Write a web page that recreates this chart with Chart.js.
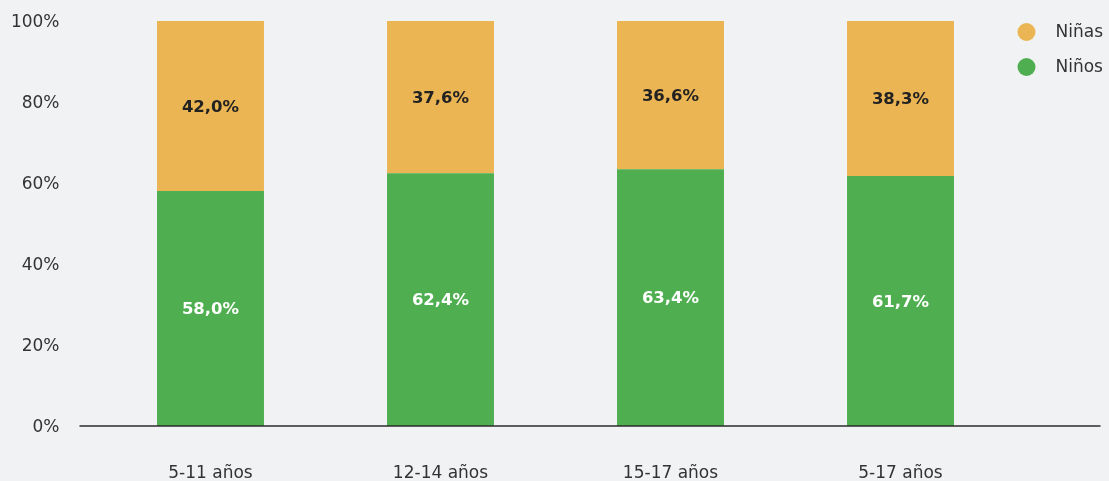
<!DOCTYPE html>
<html>
<head>
<meta charset="utf-8">
<script src="https://cdn.jsdelivr.net/npm/chart.js@4/dist/chart.umd.min.js"></script>
<style>
  html, body { margin: 0; padding: 0; background: #f1f2f4; }
  #wrap { width: 1109px; height: 481px; position: relative; }
</style>
</head>
<body>
<div id="wrap"><canvas id="c"></canvas></div>
<script>
const categories = ['5-11 años', '12-14 años', '15-17 años', '5-17 años'];
const ninos = [58.0, 62.4, 63.4, 61.7];
const ninas = [42.0, 37.6, 36.6, 38.3];
const yTicks = [0, 20, 40, 60, 80, 100];

const FONT = 'DejaVu Sans';

const barLabels = {
  id: 'barLabels',
  afterDatasetsDraw(chart) {
    const ctx = chart.ctx;
    ctx.save();
    ctx.font = 'bold 16.5px "' + FONT + '"';
    ctx.textAlign = 'center';
    ctx.textBaseline = 'middle';
    chart.data.datasets.forEach((ds, di) => {
      const meta = chart.getDatasetMeta(di);
      meta.data.forEach((el, i) => {
        const v = ds.data[i];
        const y = (el.y + el.base) / 2 + 1.5;
        ctx.fillStyle = ds.labelColor;
        ctx.fillText(v.toFixed(1).replace('.', ',') + '%', el.x, y);
      });
    });
    ctx.restore();
  }
};

const baseline = {
  id: 'baseline',
  afterDatasetsDraw(chart) {
    const ctx = chart.ctx;
    const y = chart.scales.y.getPixelForValue(0);
    ctx.save();
    ctx.strokeStyle = '#2b2b2b';
    ctx.lineWidth = 1.5;
    ctx.beginPath();
    ctx.moveTo(chart.chartArea.left - 16, y);
    ctx.lineTo(chart.chartArea.right + 85, y);
    ctx.stroke();
    ctx.restore();
  }
};

const sideLegend = {
  id: 'sideLegend',
  afterDraw(chart) {
    const ctx = chart.ctx;
    const items = chart.data.datasets.slice().reverse();
    const x0 = chart.chartArea.right + 11;
    ctx.save();
    ctx.font = '17px "' + FONT + '"';
    ctx.textBaseline = 'middle';
    items.forEach((ds, i) => {
      const cy = 32 + i * 35;
      ctx.fillStyle = ds.backgroundColor;
      ctx.beginPath();
      ctx.arc(x0, cy, 9, 0, Math.PI * 2);
      ctx.fill();
      ctx.fillStyle = '#333333';
      ctx.textAlign = 'left';
      ctx.fillText(ds.label, x0 + 29, cy + 1);
    });
    ctx.restore();
  }
};

new Chart(document.getElementById('c'), {
  type: 'bar',
  data: {
    labels: categories,
    datasets: [
      { label: 'Niños', data: ninos, backgroundColor: '#4fae50', labelColor: '#ffffff' },
      { label: 'Niñas', data: ninas, backgroundColor: '#ebb553', labelColor: '#222222' }
    ]
  },
  options: {
    responsive: true,
    maintainAspectRatio: false,
    animation: false,
    layout: { padding: { left: 11, right: 93.5, top: 21, bottom: 0 } },
    datasets: { bar: { categoryPercentage: 1, barPercentage: 0.465 } },
    plugins: {
      legend: { display: false },
      tooltip: { enabled: false }
    },
    scales: {
      x: {
        stacked: true,
        grid: { display: false, drawTicks: false },
        border: { display: false },
        ticks: { color: '#333333', font: { family: FONT, size: 17 }, padding: 37 },
        afterFit(scale) {
          scale.height = 55;
          scale.paddingLeft = 0;
          scale.paddingRight = 0;
        }
      },
      y: {
        stacked: true,
        min: 0,
        max: 100,
        afterBuildTicks(scale) { scale.ticks = yTicks.map(v => ({ value: v })); },
        grid: { display: false, drawTicks: false },
        border: { display: false },
        ticks: {
          color: '#333333',
          font: { family: FONT, size: 17 },
          padding: 36,
          labelOffset: 2,
          callback: v => v + '%'
        },
        afterFit(scale) {
          scale.width = 84.5;
          scale.paddingTop = 0;
          scale.paddingBottom = 0;
        }
      }
    }
  },
  plugins: [barLabels, baseline, sideLegend]
});
</script>
</body>
</html>
